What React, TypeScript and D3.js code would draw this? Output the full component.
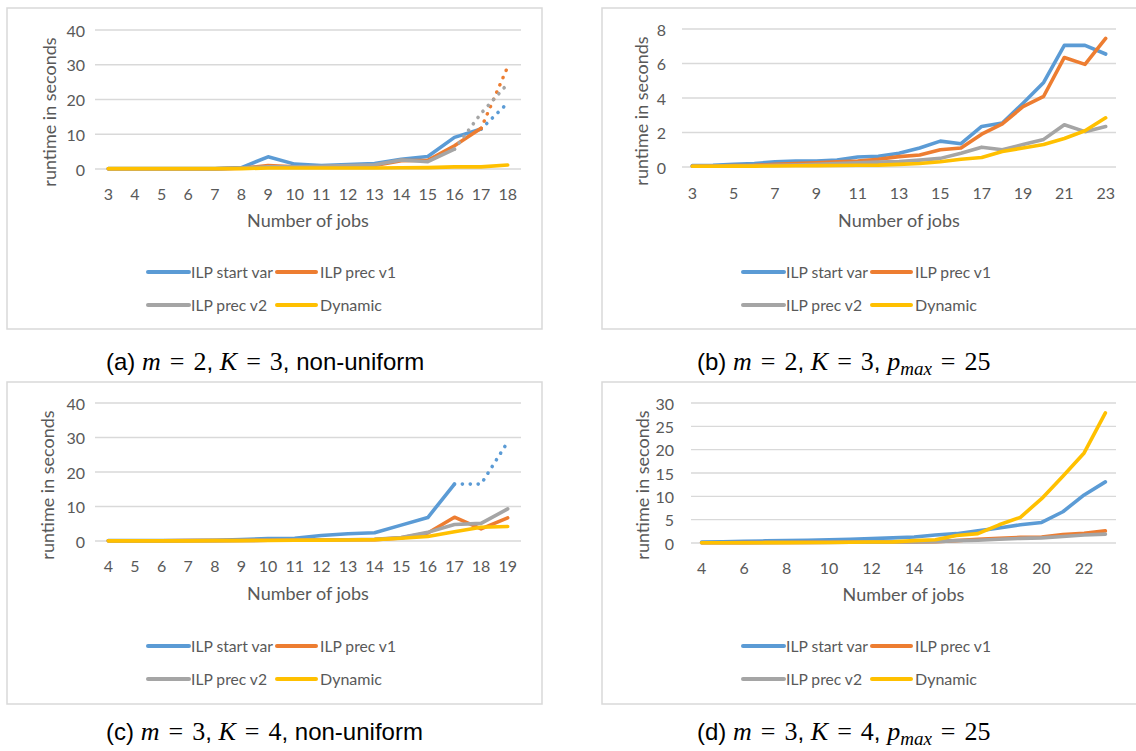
import React from "react";
import * as d3 from "d3";

// ---------------- DATA ----------------
const seriesNames = ["ILP start var", "ILP prec v1", "ILP prec v2", "Dynamic"];
const seriesColors = ["#5B9BD5", "#ED7D31", "#A5A5A5", "#FFC000"];

// (a) m=2, K=3, non-uniform
const aJobs = [3, 4, 5, 6, 7, 8, 9, 10, 11, 12, 13, 14, 15, 16, 17, 18];
const aStartVar = [0.1, 0.1, 0.1, 0.1, 0.1, 0.4, 3.5, 1.4, 1.0, 1.25, 1.6, 2.8, 3.6, 9.1, 11.5, null];
const aStartVarDotted = [null, null, null, null, null, null, null, null, null, null, null, null, null, null, 11.5, 19.0];
const aPrecV1 = [0.05, 0.05, 0.05, 0.05, 0.05, 0.2, 1.0, 0.6, 0.6, 0.8, 1.0, 2.4, 2.5, 6.7, 11.7, null];
const aPrecV1Dotted = [null, null, null, null, null, null, null, null, null, null, null, null, null, null, 11.7, 29.4];
const aPrecV2 = [0.05, 0.05, 0.05, 0.05, 0.05, 0.3, 0.6, 0.6, 0.8, 1.0, 1.2, 2.6, 2.1, 5.7, null, null];
const aPrecV2Dotted = [null, null, null, null, null, null, null, null, null, null, null, null, null, 5.7, 16.0, 24.5];
const aDynamic = [0.1, 0.1, 0.1, 0.1, 0.1, 0.1, 0.3, 0.3, 0.3, 0.3, 0.3, 0.35, 0.4, 0.6, 0.6, 1.15];

// (b) m=2, K=3, p_max=25
const bJobs = [3, 4, 5, 6, 7, 8, 9, 10, 11, 12, 13, 14, 15, 16, 17, 18, 19, 20, 21, 22, 23];
const bStartVar = [0.08, 0.1, 0.15, 0.2, 0.3, 0.35, 0.35, 0.4, 0.58, 0.62, 0.8, 1.1, 1.5, 1.35, 2.35, 2.55, 3.7, 4.9, 7.05, 7.05, 6.55];
const bPrecV1 = [0.05, 0.06, 0.08, 0.1, 0.15, 0.2, 0.25, 0.3, 0.35, 0.45, 0.6, 0.7, 1.0, 1.1, 1.9, 2.5, 3.5, 4.1, 6.35, 5.95, 7.45];
const bPrecV2 = [0.05, 0.05, 0.06, 0.08, 0.1, 0.12, 0.15, 0.2, 0.25, 0.28, 0.32, 0.4, 0.5, 0.8, 1.15, 1.0, 1.3, 1.6, 2.45, 2.05, 2.35];
const bDynamic = [0.04, 0.04, 0.05, 0.05, 0.06, 0.07, 0.08, 0.09, 0.1, 0.11, 0.15, 0.2, 0.3, 0.45, 0.55, 0.9, 1.1, 1.3, 1.65, 2.1, 2.85];

// (c) m=3, K=4, non-uniform
const cJobs = [4, 5, 6, 7, 8, 9, 10, 11, 12, 13, 14, 15, 16, 17, 18, 19];
const cStartVar = [0.1, 0.1, 0.1, 0.15, 0.2, 0.4, 0.7, 0.8, 1.6, 2.1, 2.4, 4.6, 6.8, 16.5, null, null];
const cStartVarDotted = [null, null, null, null, null, null, null, null, null, null, null, null, null, 16.5, 16.5, 28.7];
const cPrecV1 = [0.05, 0.05, 0.05, 0.1, 0.1, 0.15, 0.2, 0.25, 0.3, 0.35, 0.4, 0.9, 2.3, 6.9, 3.5, 6.7];
const cPrecV2 = [0.05, 0.05, 0.05, 0.1, 0.1, 0.15, 0.2, 0.25, 0.3, 0.35, 0.5, 1.0, 2.5, 4.8, 5.1, 9.3];
const cDynamic = [0.05, 0.05, 0.05, 0.05, 0.1, 0.1, 0.15, 0.2, 0.25, 0.3, 0.4, 0.8, 1.3, 2.7, 4.0, 4.2];

// (d) m=3, K=4, p_max=25
const dJobs = [4, 5, 6, 7, 8, 9, 10, 11, 12, 13, 14, 15, 16, 17, 18, 19, 20, 21, 22, 23];
const dStartVar = [0.2, 0.25, 0.35, 0.45, 0.55, 0.6, 0.7, 0.8, 0.95, 1.1, 1.3, 1.7, 2.0, 2.6, 3.2, 3.9, 4.4, 6.7, 10.3, 13.1];
const dPrecV1 = [0.05, 0.06, 0.08, 0.1, 0.12, 0.14, 0.16, 0.18, 0.2, 0.22, 0.25, 0.3, 0.5, 0.8, 1.0, 1.2, 1.3, 1.8, 2.1, 2.6];
const dPrecV2 = [0.04, 0.05, 0.06, 0.08, 0.1, 0.12, 0.14, 0.16, 0.18, 0.2, 0.22, 0.26, 0.5, 0.6, 0.8, 1.0, 1.1, 1.4, 1.7, 1.9];
const dDynamic = [0.05, 0.05, 0.06, 0.07, 0.08, 0.1, 0.12, 0.15, 0.2, 0.25, 0.5, 0.7, 1.6, 2.0, 3.9, 5.5, 9.5, 14.3, 19.3, 27.9];

const aYTicks = [0, 10, 20, 30, 40];
const bYTicks = [0, 2, 4, 6, 8];
const cYTicks = [0, 10, 20, 30, 40];
const dYTicks = [0, 5, 10, 15, 20, 25, 30];

// ---------------- LAYOUT ----------------
type Val = number | null;
type Series = { name: string; color: string; solid: Val[]; dotted?: Val[] };

const excelFont = "Lato, 'Open Sans', sans-serif";
const textGray = "#595959";
const gridColor = "#D9D9D9";

const legendWidths = [82, 76, 76, 62];

function Panel(props: {
  box: { x: number; y: number; w: number; h: number };
  plot: { l: number; r: number; t: number; b: number };
  jobs: number[];
  series: Series[];
  yTicks: number[];
  xLabelStep: number;
  tickGap: number;
  yTitle: { x: number; y: number };
  xLabelY: number;
  xTitleY: number;
}) {
  const { box, plot, jobs, series, yTicks, xLabelStep, tickGap, yTitle, xLabelY, xTitleY } = props;
  const x = d3.scalePoint<number>().domain(jobs).range([plot.l, plot.r]).padding(0.5);
  const y = d3.scaleLinear().domain([0, d3.max(yTicks) as number]).range([plot.b, plot.t]);
  const line = d3
    .line<Val>()
    .defined((v) => v != null)
    .x((_, i) => x(jobs[i]) as number)
    .y((v) => y(v as number));

  const legendRows = [
    [0, 1],
    [2, 3],
  ];
  const rowY = [box.y + 264, box.y + 297];
  const colLine = [
    [box.x + 141, box.x + 182],
    [box.x + 270, box.x + 309],
  ];
  const colText = [box.x + 184, box.x + 313];

  return (
    <g>
      <rect x={box.x} y={box.y} width={box.w} height={box.h} fill="#fff" stroke={gridColor} strokeWidth={1.5} />
      {yTicks.map((t) => (
        <g key={"g" + t}>
          <line x1={plot.l} x2={plot.r} y1={y(t)} y2={y(t)} stroke={gridColor} strokeWidth={1.3} />
          <text
            x={plot.l - tickGap}
            y={y(t)}
            textAnchor="end"
            dominantBaseline="central"
            fontFamily={excelFont}
            fontSize={16}
            fill={textGray}
          >
            {t}
          </text>
        </g>
      ))}
      {jobs.map((j, i) =>
        i % xLabelStep === 0 ? (
          <text
            key={"x" + j}
            x={x(j)}
            y={xLabelY}
            textAnchor="middle"
            dominantBaseline="central"
            fontFamily={excelFont}
            fontSize={16}
            fill={textGray}
          >
            {j}
          </text>
        ) : null
      )}
      <text
        x={(plot.l + plot.r) / 2}
        y={xTitleY}
        textAnchor="middle"
        dominantBaseline="central"
        fontFamily={excelFont}
        fontSize={18}
        fill={textGray}
      >
        Number of jobs
      </text>
      <text
        transform={`translate(${yTitle.x},${yTitle.y}) rotate(-90)`}
        textAnchor="middle"
        dominantBaseline="central"
        fontFamily={excelFont}
        fontSize={18}
        fill={textGray}
      >
        runtime in seconds
      </text>
      {series.map((s) => (
        <g key={s.name}>
          <path
            d={line(s.solid) || ""}
            fill="none"
            stroke={s.color}
            strokeWidth={3.6}
            strokeLinejoin="round"
            strokeLinecap="round"
          />
          {s.dotted ? (
            <path
              d={line(s.dotted) || ""}
              fill="none"
              stroke={s.color}
              strokeWidth={3.6}
              strokeLinecap="round"
              strokeDasharray="0.1 7.8"
            />
          ) : null}
        </g>
      ))}
      {legendRows.map((row, ri) =>
        row.map((si, ci) => (
          <g key={"lg" + si}>
            <line
              x1={colLine[ci][0]}
              x2={colLine[ci][1]}
              y1={rowY[ri]}
              y2={rowY[ri]}
              stroke={series[si].color}
              strokeWidth={4}
              strokeLinecap="round"
            />
            <text
              x={colText[ci]}
              y={rowY[ri]}
              dominantBaseline="central"
              fontFamily={excelFont}
              fontSize={15}
              fill={textGray}
              textLength={legendWidths[si]}
              lengthAdjust="spacingAndGlyphs"
            >
              {series[si].name}
            </text>
          </g>
        ))
      )}
    </g>
  );
}

const sans = "'Liberation Sans', Arial, sans-serif";
const serif = "'Liberation Serif', 'DejaVu Serif', serif";

function Caption(props: { x: number; y: number; label: string; m: number; K: number; uniform: boolean }) {
  const { x, y, label, m, K, uniform } = props;
  const S = { fontFamily: sans, fontSize: 24 };
  const M = { fontFamily: serif, fontSize: 26 };
  const MI = { fontFamily: serif, fontSize: 26, fontStyle: "italic" as const };
  const gap = 9;
  return (
    <text x={x} y={y} fill="#000">
      <tspan {...S}>({label}) </tspan>
      <tspan {...MI}>m</tspan>
      <tspan {...M} dx={gap}>=</tspan>
      <tspan {...M} dx={gap}>{m}</tspan>
      <tspan {...S}>, </tspan>
      <tspan {...MI}>K</tspan>
      <tspan {...M} dx={gap}>=</tspan>
      <tspan {...M} dx={gap}>{K}</tspan>
      <tspan {...S}>, </tspan>
      {uniform ? (
        <>
          <tspan {...MI}>p</tspan>
          <tspan fontFamily={serif} fontSize={19} fontStyle="italic" dy={5}>max</tspan>
          <tspan {...M} dx={gap} dy={-5}>=</tspan>
          <tspan {...M} dx={gap}>25</tspan>
        </>
      ) : (
        <tspan {...S}>non-uniform</tspan>
      )}
    </text>
  );
}

function mk(solids: Val[][], dotted: (Val[] | undefined)[]): Series[] {
  return seriesNames.map((name, i) => ({ name, color: seriesColors[i], solid: solids[i], dotted: dotted[i] }));
}

export default function App() {
  const aSeries = mk([aStartVar, aPrecV1, aPrecV2, aDynamic], [aStartVarDotted, aPrecV1Dotted, aPrecV2Dotted, undefined]);
  const bSeries = mk([bStartVar, bPrecV1, bPrecV2, bDynamic], [undefined, undefined, undefined, undefined]);
  const cSeries = mk([cStartVar, cPrecV1, cPrecV2, cDynamic], [cStartVarDotted, undefined, undefined, undefined]);
  const dSeries = mk([dStartVar, dPrecV1, dPrecV2, dDynamic], [undefined, undefined, undefined, undefined]);

  return (
    <svg width={1136} height={751} style={{ position: "absolute", left: 0, top: 0, background: "#fff" }}>
      <rect x={0} y={0} width={1136} height={751} fill="#fff" />
      <Panel
        box={{ x: 7, y: 8, w: 535, h: 321 }}
        plot={{ l: 95, r: 521, t: 30, b: 169 }}
        jobs={aJobs}
        series={aSeries}
        yTicks={aYTicks}
        xLabelStep={1}
        tickGap={10}
        yTitle={{ x: 49, y: 112 }}
        xLabelY={193}
        xTitleY={220}
      />
      <Panel
        box={{ x: 602, y: 8, w: 540, h: 321 }}
        plot={{ l: 682, r: 1116, t: 29, b: 167 }}
        jobs={bJobs}
        series={bSeries}
        yTicks={bYTicks}
        xLabelStep={2}
        tickGap={16}
        yTitle={{ x: 641, y: 111 }}
        xLabelY={192}
        xTitleY={220}
      />
      <Panel
        box={{ x: 7, y: 382, w: 535, h: 322 }}
        plot={{ l: 95, r: 521, t: 403, b: 541 }}
        jobs={cJobs}
        series={cSeries}
        yTicks={cYTicks}
        xLabelStep={1}
        tickGap={10}
        yTitle={{ x: 47, y: 485 }}
        xLabelY={565}
        xTitleY={593}
      />
      <Panel
        box={{ x: 602, y: 382, w: 540, h: 322 }}
        plot={{ l: 691, r: 1116, t: 403, b: 543 }}
        jobs={dJobs}
        series={dSeries}
        yTicks={dYTicks}
        xLabelStep={2}
        tickGap={17}
        yTitle={{ x: 642, y: 485 }}
        xLabelY={567}
        xTitleY={594}
      />
      <Caption x={106} y={370} label="a" m={2} K={3} uniform={false} />
      <Caption x={697} y={370} label="b" m={2} K={3} uniform={true} />
      <Caption x={106} y={740} label="c" m={3} K={4} uniform={false} />
      <Caption x={697} y={740} label="d" m={3} K={4} uniform={true} />
    </svg>
  );
}
